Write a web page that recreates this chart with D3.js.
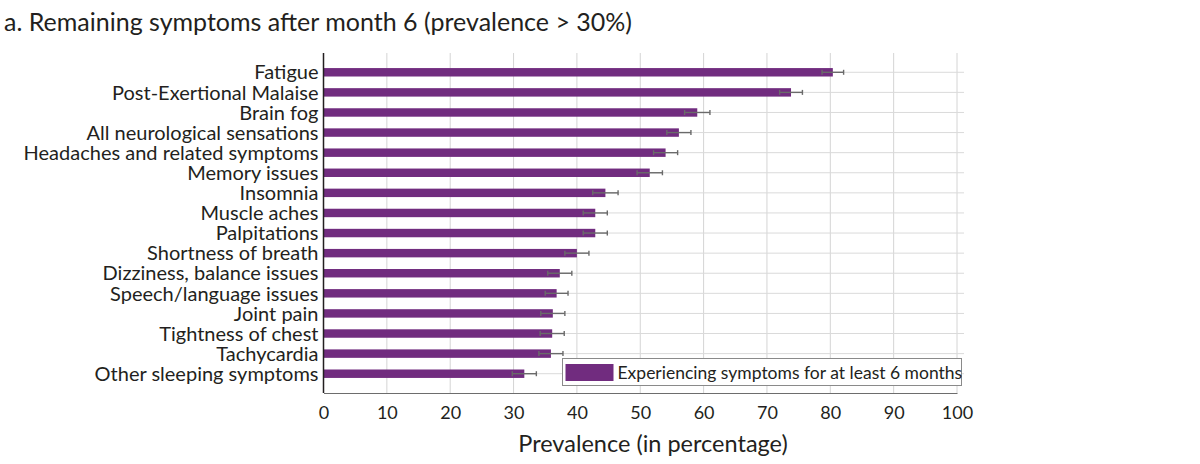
<!DOCTYPE html>
<html>
<head>
<meta charset="utf-8">
<script src="https://cdn.jsdelivr.net/npm/d3@7"></script>
<style>
  html, body { margin: 0; padding: 0; background: #fff; }
  svg { display: block; }
  text { font-family: Lato, "Open Sans", sans-serif; fill: #231f20; }
</style>
</head>
<body>
<svg id="chart" width="1200" height="464"></svg>
<script>
const categories = [
  "Fatigue", "Post-Exertional Malaise", "Brain fog", "All neurological sensations",
  "Headaches and related symptoms", "Memory issues", "Insomnia", "Muscle aches",
  "Palpitations", "Shortness of breath", "Dizziness, balance issues",
  "Speech/language issues", "Joint pain", "Tightness of chest", "Tachycardia",
  "Other sleeping symptoms"
];
const values = [80.4, 73.8, 59.0, 56.1, 54.0, 51.5, 44.5, 42.9, 42.9, 40.0, 37.3, 36.8, 36.2, 36.1, 35.9, 31.7];
const errors = [1.7, 1.8, 2.0, 1.9, 1.9, 2.0, 2.0, 1.9, 1.9, 1.9, 1.9, 1.8, 1.9, 1.9, 1.9, 1.9];
const xTicks = [0, 10, 20, 30, 40, 50, 60, 70, 80, 90, 100];
const title = "a. Remaining symptoms after month 6 (prevalence > 30%)";
const xLabel = "Prevalence (in percentage)";
const legendLabel = "Experiencing symptoms for at least 6 months";

const svg = d3.select("#chart");
const plot = { left: 323.5, right: 957, top: 53, bottom: 393 };
const purple = "#712c7f";

const x = d3.scaleLinear().domain([0, 100]).range([plot.left, plot.right]);
const y = d3.scaleBand().domain(categories).range([plot.top, plot.bottom])
  .paddingInner(0.58).paddingOuter(0.75);

// Title
svg.append("text").attr("x", 4).attr("y", 31)
  .style("font-size", "25px").text(title);

// Vertical gridlines
svg.append("g").selectAll("line").data(xTicks.filter(d => d > 0)).join("line")
  .attr("x1", d => x(d)).attr("x2", d => x(d))
  .attr("y1", plot.top).attr("y2", plot.bottom)
  .attr("stroke", "#d4d4d4").attr("stroke-width", 1);

// Horizontal gridlines at bar centres
svg.append("g").selectAll("line").data(categories).join("line")
  .attr("x1", plot.left).attr("x2", x(100) + 7)
  .attr("y1", d => y(d) + y.bandwidth() / 2).attr("y2", d => y(d) + y.bandwidth() / 2)
  .attr("stroke", "#dadada").attr("stroke-width", 1);

// Bars
svg.append("g").selectAll("rect").data(categories).join("rect")
  .attr("x", x(0)).attr("y", d => y(d))
  .attr("width", (d, i) => x(values[i]) - x(0))
  .attr("height", y.bandwidth())
  .attr("fill", purple);

// Error bars
const eb = svg.append("g").attr("stroke", "#6a6a6a").attr("stroke-width", 1.4);
categories.forEach((c, i) => {
  const cy = y(c) + y.bandwidth() / 2;
  const lo = x(values[i] - errors[i]), hi = x(values[i] + errors[i]);
  eb.append("line").attr("x1", lo).attr("x2", hi).attr("y1", cy).attr("y2", cy);
  eb.append("line").attr("x1", lo).attr("x2", lo).attr("y1", cy - 2.5).attr("y2", cy + 2.5);
  eb.append("line").attr("x1", hi).attr("x2", hi).attr("y1", cy - 2.5).attr("y2", cy + 2.5);
});

// Y axis (labels only, with axis line)
const yAxis = d3.axisLeft(y).tickSize(0).tickPadding(5);
const gy = svg.append("g").attr("transform", `translate(${plot.left},0)`).call(yAxis);
gy.select(".domain").attr("stroke", "#231f20").attr("stroke-width", 1.5)
  .attr("d", `M0,${plot.top}V${plot.bottom}`);
gy.selectAll("text").style("font-size", "20px").style("font-family", "Lato, sans-serif")
  .attr("fill", "#231f20").attr("dy", "0.36em");

// X axis
const xAxis = d3.axisBottom(x).tickValues(xTicks).tickSize(0).tickPadding(13);
const gx = svg.append("g").attr("transform", `translate(0,${plot.bottom})`).call(xAxis);
gx.select(".domain").attr("stroke", "#6d6d6d").attr("stroke-width", 1.2);
gx.selectAll("text").style("font-size", "18px").style("font-family", "Lato, sans-serif")
  .attr("fill", "#231f20");

// X label
svg.append("text").attr("x", 653).attr("y", 452)
  .attr("text-anchor", "middle").style("font-size", "23.5px").text(xLabel);

// Legend
const lg = svg.append("g");
const lgRight = x(100) + 4.5, lgLeft = 562.5;
lg.append("rect").attr("x", lgLeft).attr("y", 358.5)
  .attr("width", lgRight - lgLeft).attr("height", 27)
  .attr("fill", "#fff").attr("stroke", "#8a8a8a").attr("stroke-width", 1);
lg.append("rect").attr("x", lgLeft + 3).attr("y", 364)
  .attr("width", 48).attr("height", 17).attr("fill", purple);
lg.append("text").attr("x", lgLeft + 55).attr("y", 378.5)
  .style("font-size", "17.5px").text(legendLabel);
</script>
</body>
</html>
